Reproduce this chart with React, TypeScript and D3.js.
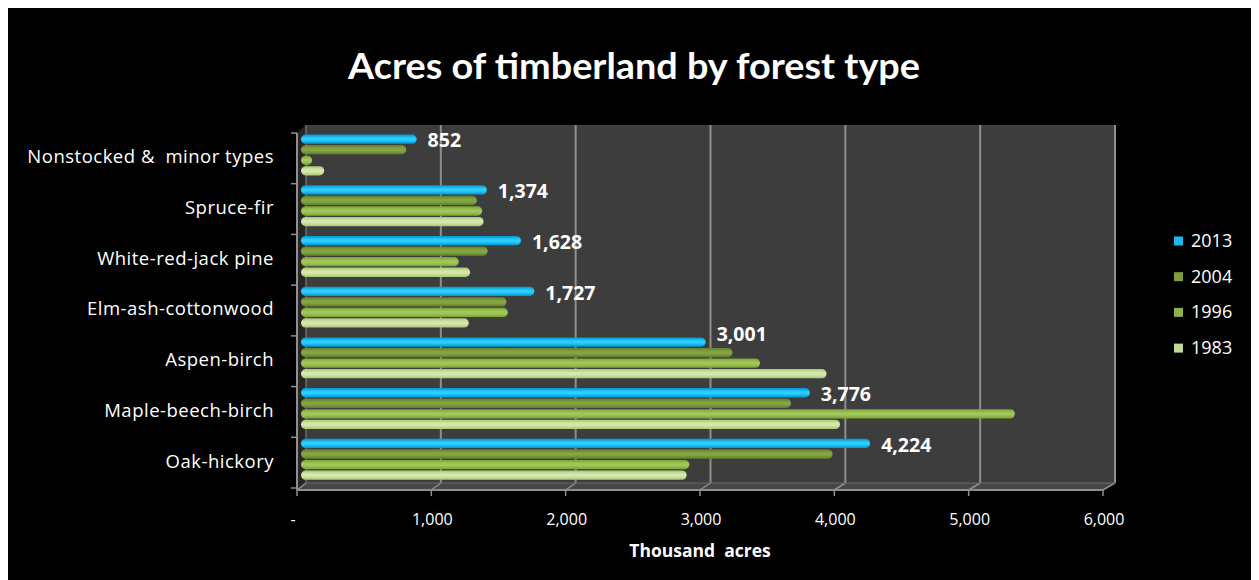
import React from "react";
import * as d3 from "d3";

const categories = [
  "Nonstocked &  minor types",
  "Spruce-fir",
  "White-red-jack pine",
  "Elm-ash-cottonwood",
  "Aspen-birch",
  "Maple-beech-birch",
  "Oak-hickory",
];
const years = ["2013", "2004", "1996", "1983"];
const v2013 = [852, 1374, 1628, 1727, 3001, 3776, 4224];
const v2004 = [775, 1300, 1380, 1520, 3200, 3635, 3945];
const v1996 = [75, 1340, 1165, 1530, 3405, 5300, 2880];
const v1983 = [165, 1350, 1250, 1240, 3900, 4000, 2860];
const xTicks = [0, 1000, 2000, 3000, 4000, 5000, 6000];
const seriesValues = [v2013, v2004, v1996, v1983];

const colors = [
  { edge: "#0096d0", mid: "#2ccdff", legend: "#1ab8f0" },
  { edge: "#627f2a", mid: "#84a544", legend: "#7f9c3e" },
  { edge: "#7ca236", mid: "#a1c65a", legend: "#8fb04a" },
  { edge: "#a9c873", mid: "#d4e8ae", legend: "#c3d89a" },
];

export default function App() {
  const W = 1251;
  const H = 572;
  const font = "'Open Sans', 'DejaVu Sans', sans-serif";

  const backTop = 125;
  const backBottom = 483;
  const frontTop = 133;
  const frontBottom = 490;
  const xBack = d3.scaleLinear().domain([0, 6000]).range([306, 1115]);
  const xFront = d3.scaleLinear().domain([0, 6000]).range([297, 1103]);
  const xBar = d3.scaleLinear().domain([0, 6000]).range([302, 1109]);
  const yBand = d3.scaleBand().domain(categories).range([frontTop, 488]);
  const yInner = d3
    .scaleBand()
    .domain(years)
    .range([1, 43])
    .paddingInner(0.12)
    .paddingOuter(0.05);
  const bh = yInner.bandwidth();
  const fmt = d3.format(",");

  const bandEdges = categories.map((c) => yBand(c) as number).concat([488]);

  return (
    <svg width={W} height={H} style={{ display: "block" }}>
      <defs>
        {colors.map((c, i) => (
          <linearGradient id={`g${i}`} key={i} x1="0" y1="0" x2="0" y2="1">
            <stop offset="0" stopColor={c.edge} />
            <stop offset="0.4" stopColor={c.mid} />
            <stop offset="0.6" stopColor={c.mid} />
            <stop offset="1" stopColor={c.edge} />
          </linearGradient>
        ))}
      </defs>
      <g transform="translate(-8,-8)">
        <rect x={8} y={8} width={1244} height={572} fill="#000" />
        <text
          x={634}
          y={79}
          textAnchor="middle"
          fill="#fff"
          fontFamily="Lato, 'Open Sans', sans-serif"
          fontWeight={700}
          fontSize={36}
          textLength={572}
          lengthAdjust="spacingAndGlyphs"
        >
          Acres of timberland by forest type
        </text>

        <rect
          x={xBack(0)}
          y={backTop}
          width={xBack(6000) - xBack(0)}
          height={backBottom - backTop}
          fill="#3d3d3d"
        />
        <polygon
          points={`${xFront(0)},${frontTop} ${xBack(0)},${backTop} ${xBack(0)},${backBottom} ${xFront(0)},${frontBottom}`}
          fill="#262626"
        />
        <polygon
          points={`${xFront(0)},${frontBottom} ${xBack(0)},${backBottom} ${xBack(6000)},${backBottom} ${xFront(6000)},${frontBottom}`}
          fill="#474747"
        />
        {xTicks.map((t) => (
          <g key={t}>
            <line
              x1={xBack(t)}
              x2={xBack(t)}
              y1={backTop}
              y2={backBottom}
              stroke={t === 0 ? "#6e6e6e" : "#8f8f8f"}
              strokeWidth={t === 0 ? 1.5 : 2}
            />
            <line
              x1={xBack(t)}
              y1={backBottom}
              x2={xFront(t)}
              y2={frontBottom}
              stroke="#8f8f8f"
              strokeWidth={1.5}
            />
            <line
              x1={xFront(t)}
              y1={frontBottom}
              x2={xFront(t)}
              y2={frontBottom + 6}
              stroke="#8f8f8f"
              strokeWidth={1.5}
            />
          </g>
        ))}
        <line
          x1={xBack(0)}
          x2={xBack(6000)}
          y1={backBottom}
          y2={backBottom}
          stroke="#6a6a6a"
          strokeWidth={1}
        />
        <line
          x1={xFront(0)}
          x2={xFront(6000)}
          y1={frontBottom}
          y2={frontBottom}
          stroke="#8f8f8f"
          strokeWidth={2}
        />
        <line
          x1={xFront(0)}
          x2={xFront(0)}
          y1={frontTop}
          y2={frontBottom}
          stroke="#8f8f8f"
          strokeWidth={2}
        />
        {bandEdges.map((y, i) => (
          <line
            key={i}
            x1={xFront(0) - 6}
            x2={xFront(0)}
            y1={y}
            y2={y}
            stroke="#8f8f8f"
            strokeWidth={1.5}
          />
        ))}

        {categories.map((c, ci) => {
          const y0 = yBand(c) as number;
          const blueMid = y0 + (yInner("2013") as number) + bh / 2;
          const crowded = v2004[ci] > v2013[ci];
          return (
            <g key={c}>
              {years.map((yr, si) => {
                const v = seriesValues[si][ci];
                const y = y0 + (yInner(yr) as number);
                return (
                  <rect
                    key={yr}
                    x={xBar(0) - 1}
                    y={y}
                    width={Math.max(bh, xBar(v) - xBar(0) + 1)}
                    height={bh}
                    rx={bh / 2}
                    ry={bh / 2}
                    fill={`url(#g${si})`}
                  />
                );
              })}
              <text
                x={xBar(v2013[ci]) + 11}
                y={crowded ? blueMid - 6 : blueMid + 3}
                dominantBaseline="middle"
                fill="#fff"
                fontFamily={font}
                fontWeight={700}
                fontSize={19.5}
              >
                {fmt(v2013[ci])}
              </text>
              <text
                x={274}
                y={y0 + yBand.bandwidth() / 2}
                dominantBaseline="middle"
                textAnchor="end"
                fill="#fff"
                fontFamily={font}
                fontSize={18.5}
                letterSpacing={0.5}
                style={{ whiteSpace: "pre" }}
              >
                {c}
              </text>
            </g>
          );
        })}

        {xTicks.map((t) => (
          <text
            key={t}
            x={t === 0 ? 293 : xFront(t) + 1}
            y={521}
            dominantBaseline="middle"
            textAnchor="middle"
            fill="#fff"
            fontFamily={font}
            fontSize={16}
          >
            {t === 0 ? "-" : fmt(t)}
          </text>
        ))}
        <text
          x={700}
          y={552}
          dominantBaseline="middle"
          textAnchor="middle"
          fill="#fff"
          fontFamily={font}
          fontWeight={700}
          fontSize={17.5}
          style={{ whiteSpace: "pre" }}
        >
          {"Thousand  acres"}
        </text>

        {years.map((yr, i) => (
          <g key={yr}>
            <rect
              x={1174}
              y={241 + i * 35.7 - 4.5}
              width={9}
              height={9}
              fill={colors[i].legend}
            />
            <text
              x={1191}
              y={241 + i * 35.7 + 1}
              dominantBaseline="middle"
              fill="#fff"
              fontFamily={font}
              fontSize={18}
            >
              {yr}
            </text>
          </g>
        ))}
      </g>
    </svg>
  );
}
